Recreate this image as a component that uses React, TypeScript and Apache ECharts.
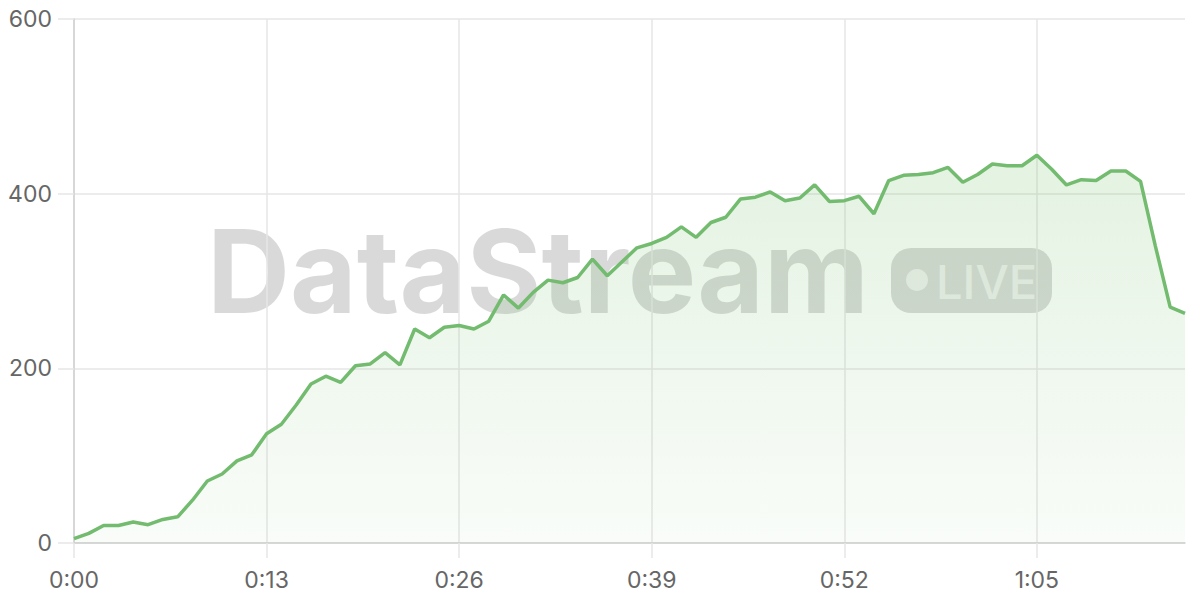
import React, { useEffect, useRef } from 'react';
import * as echarts from 'echarts';

// 每秒一个采样点，0:00 ~ 1:15
const VALUES = [
  5, 11, 20, 20, 24, 21, 27, 30, 49, 71, 79, 94, 101,
  125, 136, 158, 182, 191, 184, 203, 205, 218, 204, 245, 235, 247,
  249, 245, 254, 284, 269, 287, 301, 298, 304, 325, 306, 322, 338,
  343, 350, 362, 350, 367, 373, 394, 396, 402, 392, 395, 410, 391,
  392, 397, 377, 415, 421, 422, 424, 430, 413, 422, 434, 432, 432,
  444, 428, 410, 416, 415, 426, 426, 414, 340, 270, 263,
];

const Y_TICKS = [0, 200, 400, 600];

const fmtTime = (sec: number) => `${Math.floor(sec / 60)}:${String(sec % 60).padStart(2, '0')}`;
const CATEGORIES = VALUES.map((_, i) => fmtTime(i));

const LINE_COLOR = '#72bb6f';
const LABEL_FONT = 'Inter, "Noto Sans", sans-serif';

export default function App() {
  const chartRef = useRef<HTMLDivElement>(null);

  useEffect(() => {
    if (!chartRef.current) return;
    const chart = echarts.init(chartRef.current, undefined, { renderer: 'svg' });

    chart.setOption({
      animation: false,
      backgroundColor: '#fff',
      grid: { left: 74, right: 15, top: 19, bottom: 57, containLabel: false },
      xAxis: {
        type: 'category',
        data: CATEGORIES,
        boundaryGap: false,
        axisLine: { lineStyle: { color: '#d0d0d0', width: 1.5 } },
        axisTick: { show: true, interval: 12, length: 15, lineStyle: { color: '#e6e6e6', width: 1.5 } },
        splitLine: { show: true, interval: 12, lineStyle: { color: '#e6e6e6', width: 1.5 } },
        axisLabel: { interval: 12, margin: 25, color: '#666', fontSize: 23, fontFamily: LABEL_FONT },
      },
      yAxis: {
        type: 'value',
        min: Y_TICKS[0],
        max: Y_TICKS[Y_TICKS.length - 1],
        interval: Y_TICKS[1] - Y_TICKS[0],
        axisLine: { show: true, lineStyle: { color: '#d0d0d0', width: 1.5 } },
        axisTick: { show: true, length: 16, lineStyle: { color: '#e6e6e6', width: 1.5 } },
        splitLine: { show: true, lineStyle: { color: '#e6e6e6', width: 1.5 } },
        axisLabel: { margin: 22, color: '#666', fontSize: 23, fontFamily: LABEL_FONT },
      },
      graphic: [
        {
          type: 'group',
          z: 1,
          silent: true,
          children: [
            {
              type: 'text',
              x: 207,
              y: 271,
              style: {
                text: 'DataStream',
                font: 'bold 115px Inter, "Noto Sans", sans-serif',
                fill: 'rgba(0,0,0,0.15)',
                textAlign: 'left',
                textVerticalAlign: 'middle',
              },
            },
            {
              type: 'rect',
              shape: { x: 891, y: 248, width: 161, height: 65, r: 20 },
              style: { fill: 'rgba(0,0,0,0.15)' },
            },
            {
              type: 'circle',
              shape: { cx: 917, cy: 280, r: 11 },
              style: { fill: 'rgba(255,255,255,0.6)' },
            },
            {
              type: 'text',
              x: 936,
              y: 281,
              style: {
                text: 'LIVE',
                font: '500 47px Inter, "Noto Sans", sans-serif',
                fill: 'rgba(255,255,255,0.6)',
                textAlign: 'left',
                textVerticalAlign: 'middle',
              },
            },
          ],
        },
      ],
      series: [
        {
          type: 'line',
          data: VALUES,
          z: 5,
          showSymbol: false,
          symbol: 'none',
          lineStyle: { color: LINE_COLOR, width: 3.5 },
          itemStyle: { color: LINE_COLOR },
          areaStyle: {
            color: new echarts.graphic.LinearGradient(0, 0, 0, 1, [
              { offset: 0, color: 'rgba(115,191,105,0.28)' },
              { offset: 1, color: 'rgba(115,191,105,0.06)' },
            ]),
          },
        },
      ],
    });

    return () => {
      chart.dispose();
    };
  }, []);

  return (
    <div
      ref={chartRef}
      style={{ position: 'fixed', left: 0, top: 0, width: 1200, height: 600 }}
    />
  );
}
